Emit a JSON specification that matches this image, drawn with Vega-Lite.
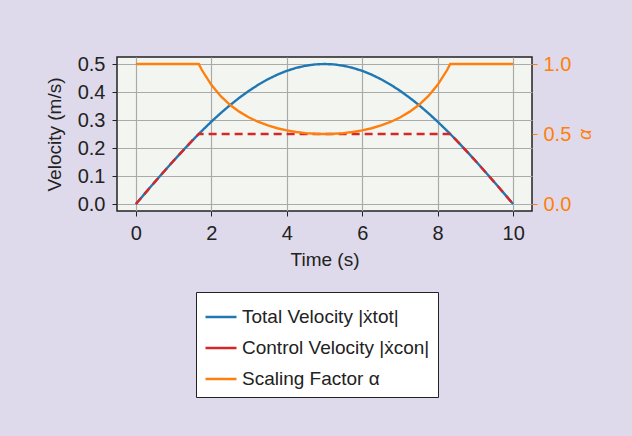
{
  "$schema": "https://vega.github.io/schema/vega-lite/v6.json",
  "width": 415,
  "height": 154,
  "autosize": {"type": "none"},
  "padding": {"left": 117, "top": 57, "right": 100, "bottom": 225},
  "background": "#dedaeb",
  "config": {
    "font": "Liberation Sans",
    "view": {"fill": "#f3f6f0", "stroke": "#222222", "strokeWidth": 1.5},
    "axis": {
      "labelFont": "Liberation Sans",
      "titleFont": "Liberation Sans",
      "labelFontSize": 20,
      "titleFontSize": 19,
      "labelColor": "#222222",
      "titleColor": "#222222",
      "titleFontWeight": "normal",
      "gridColor": "#aaaaaa",
      "gridWidth": 1.2,
      "gridOpacity": 1,
      "tickColor": "#222222",
      "tickSize": 5,
      "domain": false
    },
    "legend": {
      "labelFont": "Liberation Sans",
      "labelFontSize": 19,
      "labelColor": "#222222",
      "labelLimit": 400
    }
  },
  "datasets": {
    "vel": [
      {"t": 0, "s": "tot", "v": 0},
      {"t": 0.25, "s": "tot", "v": 0.0392},
      {"t": 0.5, "s": "tot", "v": 0.0782},
      {"t": 0.75, "s": "tot", "v": 0.1167},
      {"t": 1.0, "s": "tot", "v": 0.1545},
      {"t": 1.25, "s": "tot", "v": 0.1913},
      {"t": 1.5, "s": "tot", "v": 0.227},
      {"t": 1.667, "s": "tot", "v": 0.25},
      {"t": 1.75, "s": "tot", "v": 0.2612},
      {"t": 2.0, "s": "tot", "v": 0.2939},
      {"t": 2.25, "s": "tot", "v": 0.3247},
      {"t": 2.5, "s": "tot", "v": 0.3536},
      {"t": 2.75, "s": "tot", "v": 0.3802},
      {"t": 3.0, "s": "tot", "v": 0.4045},
      {"t": 3.25, "s": "tot", "v": 0.4263},
      {"t": 3.5, "s": "tot", "v": 0.4455},
      {"t": 3.75, "s": "tot", "v": 0.4619},
      {"t": 4.0, "s": "tot", "v": 0.4755},
      {"t": 4.25, "s": "tot", "v": 0.4862},
      {"t": 4.5, "s": "tot", "v": 0.4938},
      {"t": 4.75, "s": "tot", "v": 0.4985},
      {"t": 5.0, "s": "tot", "v": 0.5},
      {"t": 5.25, "s": "tot", "v": 0.4985},
      {"t": 5.5, "s": "tot", "v": 0.4938},
      {"t": 5.75, "s": "tot", "v": 0.4862},
      {"t": 6.0, "s": "tot", "v": 0.4755},
      {"t": 6.25, "s": "tot", "v": 0.4619},
      {"t": 6.5, "s": "tot", "v": 0.4455},
      {"t": 6.75, "s": "tot", "v": 0.4263},
      {"t": 7.0, "s": "tot", "v": 0.4045},
      {"t": 7.25, "s": "tot", "v": 0.3802},
      {"t": 7.5, "s": "tot", "v": 0.3536},
      {"t": 7.75, "s": "tot", "v": 0.3247},
      {"t": 8.0, "s": "tot", "v": 0.2939},
      {"t": 8.25, "s": "tot", "v": 0.2612},
      {"t": 8.333, "s": "tot", "v": 0.25},
      {"t": 8.5, "s": "tot", "v": 0.227},
      {"t": 8.75, "s": "tot", "v": 0.1913},
      {"t": 9.0, "s": "tot", "v": 0.1545},
      {"t": 9.25, "s": "tot", "v": 0.1167},
      {"t": 9.5, "s": "tot", "v": 0.0782},
      {"t": 9.75, "s": "tot", "v": 0.0392},
      {"t": 10.0, "s": "tot", "v": 0},
      {"t": 0, "s": "con", "v": 0},
      {"t": 0.5, "s": "con", "v": 0.0782},
      {"t": 1.0, "s": "con", "v": 0.1545},
      {"t": 1.5, "s": "con", "v": 0.227},
      {"t": 1.667, "s": "con", "v": 0.25},
      {"t": 8.333, "s": "con", "v": 0.25},
      {"t": 8.5, "s": "con", "v": 0.227},
      {"t": 9.0, "s": "con", "v": 0.1545},
      {"t": 9.5, "s": "con", "v": 0.0782},
      {"t": 10.0, "s": "con", "v": 0}
    ],
    "alpha": [
      {"t": 0, "s": "alpha", "a": 1.0},
      {"t": 1.667, "s": "alpha", "a": 1.0},
      {"t": 1.75, "s": "alpha", "a": 0.957},
      {"t": 2.0, "s": "alpha", "a": 0.851},
      {"t": 2.25, "s": "alpha", "a": 0.77},
      {"t": 2.5, "s": "alpha", "a": 0.707},
      {"t": 2.75, "s": "alpha", "a": 0.658},
      {"t": 3.0, "s": "alpha", "a": 0.618},
      {"t": 3.25, "s": "alpha", "a": 0.586},
      {"t": 3.5, "s": "alpha", "a": 0.561},
      {"t": 3.75, "s": "alpha", "a": 0.541},
      {"t": 4.0, "s": "alpha", "a": 0.526},
      {"t": 4.25, "s": "alpha", "a": 0.514},
      {"t": 4.5, "s": "alpha", "a": 0.506},
      {"t": 4.75, "s": "alpha", "a": 0.502},
      {"t": 5.0, "s": "alpha", "a": 0.5},
      {"t": 5.25, "s": "alpha", "a": 0.502},
      {"t": 5.5, "s": "alpha", "a": 0.506},
      {"t": 5.75, "s": "alpha", "a": 0.514},
      {"t": 6.0, "s": "alpha", "a": 0.526},
      {"t": 6.25, "s": "alpha", "a": 0.541},
      {"t": 6.5, "s": "alpha", "a": 0.561},
      {"t": 6.75, "s": "alpha", "a": 0.586},
      {"t": 7.0, "s": "alpha", "a": 0.618},
      {"t": 7.25, "s": "alpha", "a": 0.658},
      {"t": 7.5, "s": "alpha", "a": 0.707},
      {"t": 7.75, "s": "alpha", "a": 0.77},
      {"t": 8.0, "s": "alpha", "a": 0.851},
      {"t": 8.25, "s": "alpha", "a": 0.957},
      {"t": 8.333, "s": "alpha", "a": 1.0},
      {"t": 10.0, "s": "alpha", "a": 1.0}
    ]
  },
  "layer": [
    {
      "data": {"name": "vel"},
      "mark": {"type": "line", "strokeWidth": 2.4},
      "encoding": {
        "x": {
          "field": "t", "type": "quantitative",
          "scale": {"domain": [-0.5, 10.5], "nice": false, "zero": false},
          "axis": {"title": "Time (s)", "values": [0, 2, 4, 6, 8, 10], "format": "d", "labelPadding": 7, "titlePadding": 7}
        },
        "y": {
          "field": "v", "type": "quantitative",
          "scale": {"domain": [-0.025, 0.525], "nice": false, "zero": false},
          "axis": {"title": "Velocity (m/s)", "values": [0, 0.1, 0.2, 0.3, 0.4, 0.5], "format": ".1f", "labelPadding": 7, "titlePadding": 13}
        },
        "color": {
          "field": "s", "type": "nominal",
          "scale": {"domain": ["tot", "con", "alpha"], "range": ["#1f77b4", "#d62728", "#ff7f0e"]},
          "legend": {
            "orient": "none", "legendX": 79, "legendY": 235,
            "title": null,
            "symbolType": "stroke", "symbolSize": 961, "symbolStrokeWidth": 2.5,
            "labelExpr": "datum.value == 'tot' ? 'Total Velocity |ẋtot|' : datum.value == 'con' ? 'Control Velocity |ẋcon|' : 'Scaling Factor α'",
            "fillColor": "white", "strokeColor": "#222222", "padding": 8,
            "rowPadding": 4, "labelOffset": 4, "cornerRadius": 0
          }
        },
        "strokeDash": {
          "field": "s", "type": "nominal",
          "scale": {"domain": ["tot", "con", "alpha"], "range": [[1, 0], [8, 5], [1, 0]]},
          "legend": null
        },
        "order": {"field": "s", "sort": "descending"}
      }
    },
    {
      "data": {"name": "alpha"},
      "mark": {"type": "line", "strokeWidth": 2.4},
      "encoding": {
        "x": {"field": "t", "type": "quantitative"},
        "y": {
          "field": "a", "type": "quantitative",
          "scale": {"domain": [-0.05, 1.05], "nice": false, "zero": false},
          "axis": {
            "title": "α", "titleFontStyle": "italic", "titleAngle": -90, "titleBaseline": "top", "titleColor": "#ff7f0e",
            "labelColor": "#ff7f0e", "tickColor": "#ff7f0e", "orient": "right",
            "values": [0, 0.5, 1.0], "format": ".1f", "grid": false, "labelPadding": 6, "titlePadding": 5
          }
        },
        "color": {"field": "s", "type": "nominal"}
      }
    }
  ],
  "resolve": {"scale": {"y": "independent", "strokeDash": "independent"}}
}
